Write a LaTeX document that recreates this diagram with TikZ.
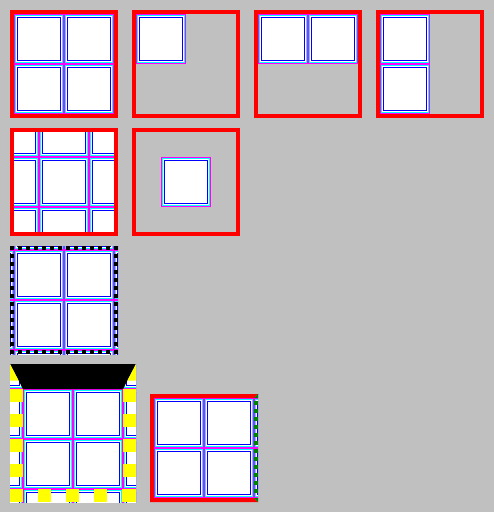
\documentclass[tikz,border=0pt]{standalone}
\definecolor{bg}{HTML}{C0C0C0}
\definecolor{mag}{HTML}{FF00FF}
\definecolor{cyn}{HTML}{00FFFF}
\definecolor{blu}{HTML}{0000FF}
\definecolor{rd}{HTML}{FF0000}
\definecolor{yel}{HTML}{FFFF00}
\definecolor{grn}{HTML}{008000}
\newcommand\cellat[2]{%
  \begin{scope}[shift={(#1,#2)}]
    \fill[mag] (0,0) rectangle (50,50);
    \fill[cyn] (1,1) rectangle (49,49);
    \fill[white] (2,2) rectangle (48,48);
    \fill[blu] (3,3) rectangle (47,47);
    \fill[white] (4,4) rectangle (46,46);
  \end{scope}}
\newcommand\redbox[2]{\draw[rd,line width=4pt] (#1+2,#2+2) rectangle ++(104,104);}
\begin{document}
\begin{tikzpicture}[x=1pt,y=-1pt]
\fill[bg] (0,0) rectangle (494,512);
\useasboundingbox (0,0) rectangle (494,512);
% box 1
\cellat{14}{14}\cellat{64}{14}\cellat{14}{64}\cellat{64}{64}\redbox{10}{10}
% box 2
\cellat{136}{14}\redbox{132}{10}
% box 3
\cellat{258}{14}\cellat{308}{14}\redbox{254}{10}
% box 4
\cellat{380}{14}\cellat{380}{64}\redbox{376}{10}
% box 5
\begin{scope}
  \clip (14,132) rectangle (114,232);
  \foreach \i in {-11,39,89}{\foreach \j in {107,157,207}{\cellat{\i}{\j}}}
\end{scope}
\redbox{10}{128}
% box 6
\cellat{161}{157}\redbox{132}{128}
% box 7
\begin{scope}
  \clip (10,246) rectangle (118,354);
  \foreach \i in {-36,14,64,114}{\foreach \j in {200,250,300,350}{\cellat{\i}{\j}}}
\end{scope}
\foreach \k in {0,...,13}{
  \fill[black] (10+8*\k,246) rectangle ++(4,4);
  \fill[black] (10+8*\k,350) rectangle ++(4,4);
  \fill[black] (10,246+8*\k) rectangle ++(4,4);
  \fill[black] (114,246+8*\k) rectangle ++(4,4);
}
% box 8
\begin{scope}
  \clip (10,364) rectangle (136,502);
  \foreach \i in {-27,23,73,123}{\foreach \j in {339,389,439,489}{\cellat{\i}{\j}}}
\end{scope}
\fill[black] (10,364) -- (136,364) -- (123,389) -- (23,389) -- cycle;
\fill[yel] (10,364) -- (18.7,380.7) -- (10,380.7) -- cycle;
\fill[yel] (136,364) -- (127.3,380.7) -- (136,380.7) -- cycle;
\foreach \y in {389,414,439,464,489}{
  \fill[yel] (10,\y) rectangle ++(13,13);
  \fill[yel] (123,\y) rectangle ++(13,13);
}
\foreach \x in {10,38,66,94,122}{\fill[yel] (\x,489) rectangle ++(13,13);}
% box 9
\begin{scope}
  \clip (150,394) rectangle (258,502);
  \foreach \i in {154,204,254}{\foreach \j in {348,398,448}{\cellat{\i}{\j}}}
\end{scope}
\fill[rd] (150,394) rectangle (154,502);
\fill[rd] (150,394) -- (258,394) -- (254,398) -- (150,398) -- cycle;
\fill[rd] (150,502) -- (258,502) -- (254,498) -- (150,498) -- cycle;
\fill[grn] (258,394) -- (258,398) -- (254,398) -- cycle;
\fill[grn] (258,502) -- (258,498) -- (254,498) -- cycle;
\foreach \k in {0,...,11}{\fill[grn] (254,401+8*\k) rectangle ++(4,4);}
\end{tikzpicture}
\end{document}
